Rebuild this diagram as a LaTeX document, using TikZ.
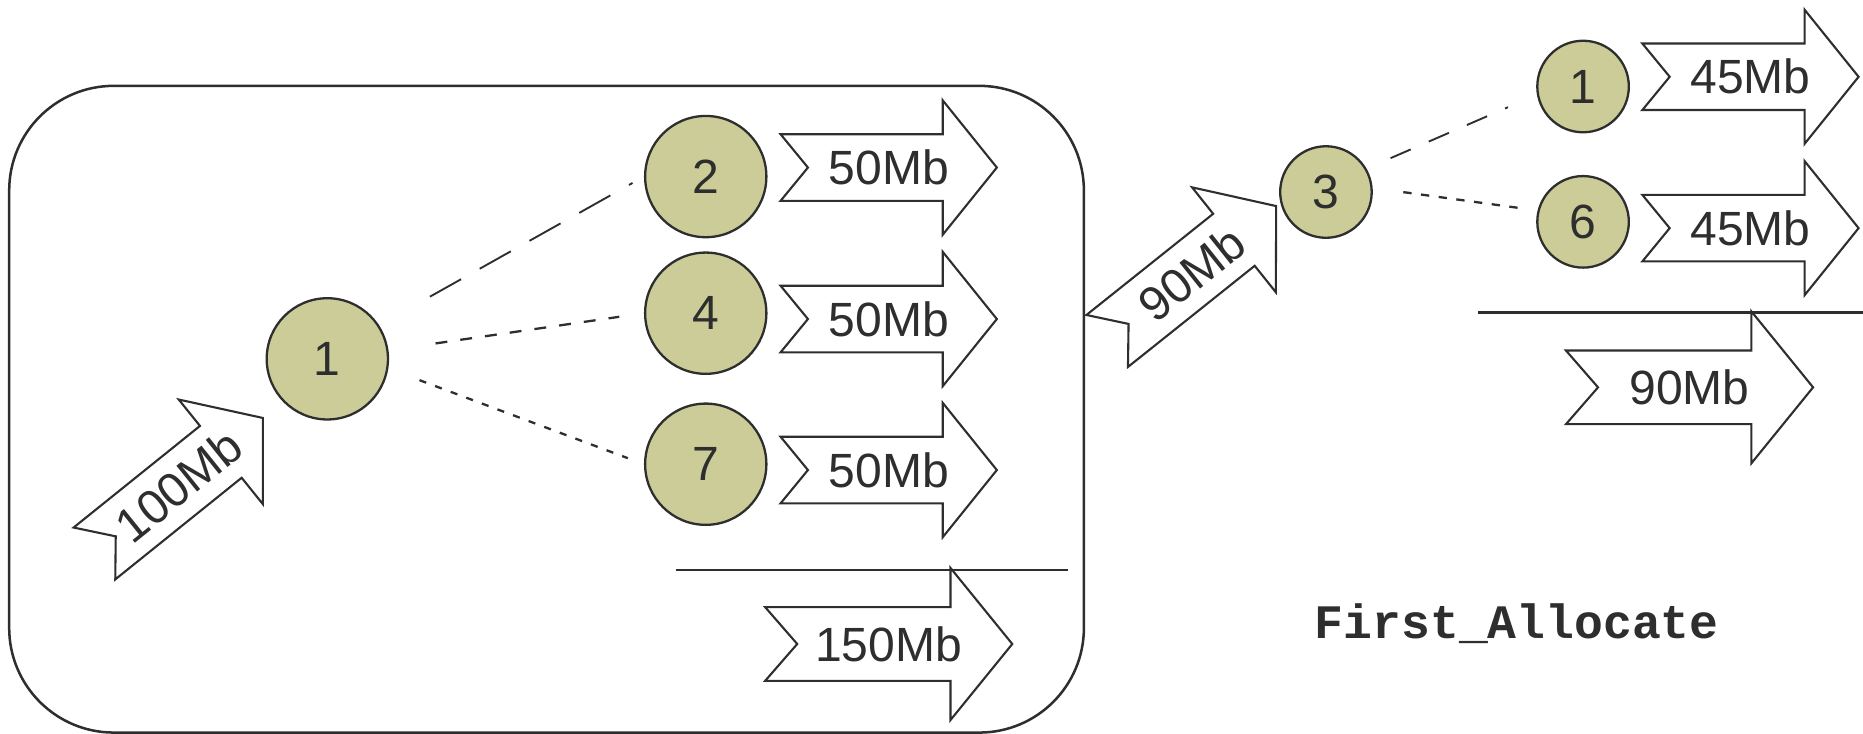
\documentclass[tikz,border=0pt]{standalone}
\usepackage{fontspec}
\newfontfamily\labelfont{Liberation Sans}
\newfontfamily\codefont{Liberation Mono}
\definecolor{khaki}{HTML}{CCCC99}
\definecolor{ink}{HTML}{2E2E2E}
\tikzset{
  arrowline/.style={draw=ink, fill=white, line width=0.5pt, line join=miter},
  arrowlabel/.style={font=\labelfont\fontsize{11.5pt}{13pt}\selectfont, text=ink, inner sep=0pt},
  job/.style={circle, draw=ink, fill=khaki, line width=0.55pt, inner sep=0pt,
    minimum size=1.02cm, font=\labelfont\fontsize{11.5pt}{13pt}\selectfont, text=ink},
  smalljob/.style={job, minimum size=0.77cm},
  longdash/.style={draw=ink, line width=0.45pt, dash pattern=on 0.30cm off 0.18cm},
  shortdash/.style={draw=ink, line width=0.55pt, dash pattern=on 0.10cm off 0.11cm},
  dotdash/.style={draw=ink, line width=0.55pt, dash pattern=on 0.06cm off 0.08cm},
  rlongdash/.style={draw=ink, line width=0.45pt, dash pattern=on 0.185cm off 0.165cm},
  rshortdash/.style={draw=ink, line width=0.55pt, dash pattern=on 0.07cm off 0.08cm},
  sumline/.style={draw=ink, line width=0.6pt},
  pics/smallarrow/.style={code={
    \draw[arrowline] (-91,-28) -- (-68,0) -- (-91,28) -- (45.5,28) -- (45.5,56.5)
      -- (91,0) -- (45.5,-56.5) -- (45.5,-28) -- cycle;
    \node[arrowlabel, transform shape] (-text) at (0,0) {#1};
  }},
  pics/bigarrow/.style={code={
    \draw[arrowline] (-104,-31) -- (-77,0) -- (-104,31) -- (52,31) -- (52,64)
      -- (104,0) -- (52,-64) -- (52,-31) -- cycle;
    \node[arrowlabel, transform shape] (-text) at (0,0) {#1};
  }},
}
\begin{document}
\begin{tikzpicture}[x=0.01cm, y=-0.01cm]
\useasboundingbox (0,0) rectangle (1568,617);

% group box around the first node and its children
\node[draw=ink, line width=0.6pt, rounded corners=0.88cm, minimum width=9.04cm,
  minimum height=5.44cm, inner sep=0pt] (cluster) at (460,344.4) {};

% incoming flow
\pic[rotate=38.8] (in100) at (150.4,408.8) {smallarrow=100Mb};

% first level
\node[job] (n1) at (275.5,302) {1};
\node[job] (n2) at (594,148.6) {2};
\node[job] (n4) at (594,263.6) {4};
\node[job] (n7) at (594,390.7) {7};

\pic (o2) at (748,141) {smallarrow=50Mb};
\pic (o4) at (748,268.5) {smallarrow=50Mb};
\pic (o7) at (748,395.6) {smallarrow=50Mb};

\draw[longdash, shorten <=0.49cm, shorten >=0.11cm] (n1.33) -- (n2.180);
\draw[shortdash, shorten <=0.40cm, shorten >=0.21cm] (n1.8) -- (n4.180);
\draw[dotdash, shorten <=0.28cm, shorten >=0.145cm] (n1.-9) -- (n7.180);

\coordinate (s1a) at (568.7,479.8);
\coordinate (s1b) at (899,479.8);
\draw[sumline] (s1a) -- (s1b);
\pic (t150) at (748,542) {bigarrow=150Mb};

% second level
\pic[rotate=38.6] (in90) at (1003,230.2) {smallarrow=90Mb};
\node[smalljob] (n3) at (1116,161.6) {3};
\node[smalljob] (m1) at (1332.4,72.8) {1};
\node[smalljob] (m6) at (1332.4,186.7) {6};

\draw[rlongdash, shorten <=0.22cm, shorten >=0.265cm] (n3.30.4) -- (m1.190.5);
\draw[rshortdash, shorten <=0.26cm, shorten >=0.167cm] (n3.5.2) -- (m6.166.7);

\pic (p1) at (1473.3,64.6) {smallarrow=45Mb};
\pic (p6) at (1473.3,192) {smallarrow=45Mb};

\coordinate (s2a) at (1243.7,263.2);
\coordinate (s2b) at (1568,263.2);
\draw[sumline] (s2a) -- (s2b);
\pic (t90) at (1422,326) {bigarrow=90Mb};

\node[font=\codefont\bfseries\fontsize{11.5pt}{13pt}\selectfont, text=ink,
  inner sep=0pt, anchor=base] (caption) at (1276.6,537.3) {First\_Allocate};
\end{tikzpicture}
\end{document}
